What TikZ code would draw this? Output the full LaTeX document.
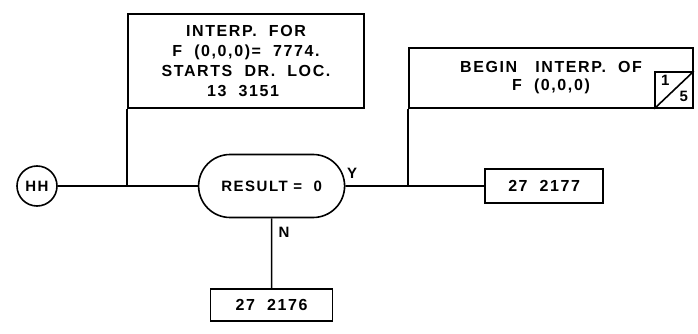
\documentclass[tikz,border=0pt]{standalone}
\usepackage{fontspec}
\setmainfont{Liberation Sans}[LetterSpace=10]
\usetikzlibrary{positioning,shapes.misc}

\begin{document}
\begin{tikzpicture}[
  x=1pt, y=-1pt,
  font=\fontsize{16}{20}\selectfont\bfseries,
  line width=1.6pt,
  box/.style={rectangle, draw, align=center, inner sep=0pt},
  decision/.style={rounded rectangle, draw, minimum width=146pt, minimum height=63pt, inner sep=0pt},
  connector/.style={circle, draw, minimum size=40pt, inner sep=0pt},
  branch/.style={font=\fontsize{15}{15}\selectfont\bfseries, inner sep=0pt}
]
\useasboundingbox (0,0) rectangle (698,334);
% entry connector, the test and its two exits
\node[connector, font=\fontsize{15}{15}\selectfont\bfseries] (hh) at (37,186) {HH};
\node[decision, font=\fontsize{15}{15}\selectfont\bfseries, right=140pt of hh] (test) {RESULT = \ 0};
\node[box, minimum width=118pt, minimum height=34pt, right=139pt of test] (yesbox) {27\ \ 2177};
\node[box, minimum width=122pt, minimum height=32pt, below=70pt of test] (nobox) {27\ \ 2176};
% remarks hanging over the flow line
\node[box, minimum width=236pt, minimum height=94pt] (interp) at (246,61)
  {INTERP.\ \ FOR\\F\ \ (0,0,0)=\ \ 7774.\\STARTS\ \ DR.\ \ LOC.\\13\ \ 3151\hspace*{6pt}};
\node[box, minimum width=284pt, minimum height=60pt, font=\fontsize{16}{18}\selectfont\bfseries] (begin) at (551,78)
  {BEGIN\ \ \ INTERP.\ \ OF\\F\ \ (0,0,0)};
\node[box, minimum width=38pt, minimum height=36pt, anchor=south east] (page) at (begin.south east) {};
\node[branch, anchor=north west] (pagetop) at ([xshift=6pt, yshift=-3pt]page.north west) {1};
\node[branch, anchor=south east] (pagebot) at ([xshift=-5pt, yshift=6pt]page.south east) {5};
\draw (page.south west) -- (page.north east);
% branch labels
\node[branch] (yes) at (352,173) {Y};
\node[branch] (no) at (284,232) {N};
% flow lines
\draw (hh) -- (test);
\draw (test) -- (yesbox);
\draw (test) -- (nobox);
\draw (interp.south west) -- (interp.south west |- hh.east);
\draw (begin.south west) -- (begin.south west |- test.east);
\end{tikzpicture}
\end{document}
